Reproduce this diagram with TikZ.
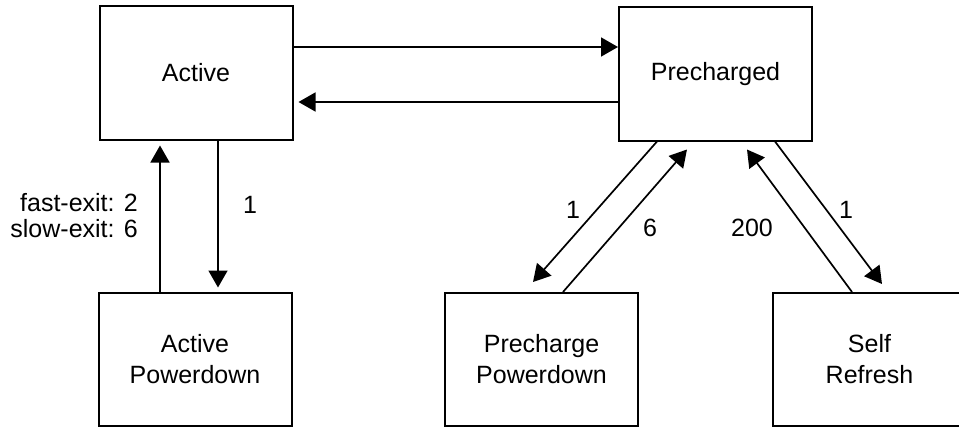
\documentclass[tikz,border=0pt]{standalone}
\usepackage{fontspec}
\setmainfont{Liberation Sans}
\usetikzlibrary{arrows.meta}
\begin{document}
\begin{tikzpicture}[x=1pt,y=-1pt,
  statebox/.style={draw, line width=2pt, minimum width=193pt, minimum height=133pt,
    inner sep=0pt, align=center, font=\fontsize{25}{31}\selectfont},
  conn/.style={line width=1.7pt, -{Triangle[length=17pt,width=19pt]}},
  lbl/.style={font=\fontsize{25}{26}\selectfont, inner sep=0pt}]
\useasboundingbox (0,0) rectangle (959,428);
\clip (0,0) rectangle (959,428);
\node[statebox] (act) at (196,73) {Active};
\node[statebox] (pre) at (715.5,74) {Precharged};
\node[statebox] (ap) at (195,359) {Active\\Powerdown};
\node[statebox] (pp) at (541.5,359.5) {Precharge\\Powerdown};
\node[statebox] (sr) at (869.5,359.5) {Self\\Refresh};
% horizontal connectors
\coordinate (t1) at ([yshift=26pt]act.east);
\coordinate (b1) at ([yshift=-29pt]act.east);
\draw[conn] (t1) -- (t1 -| pre.west);
\draw[conn, shorten >=5pt] (b1 -| pre.west) -- (b1);
% vertical connectors
\coordinate (u1) at ([xshift=-35pt]ap.north);
\coordinate (d1) at ([xshift=22pt]act.south);
\draw[conn, shorten >=5pt] (u1) -- (u1 |- act.south);
\draw[conn, shorten >=4pt] (d1) -- (d1 |- ap.north);
% diagonal connectors
\draw[conn] ([xshift=-58.5pt]pre.south) -- ([shift={(-8.5pt,10pt)}]pp.north);
\draw[conn] ([xshift=21.5pt]pp.north) -- ([shift={(-28.5pt,-8pt)}]pre.south);
\draw[conn] ([xshift=-17.5pt]sr.north) -- ([shift={(31.5pt,-8pt)}]pre.south);
\draw[conn] ([xshift=59.5pt]pre.south) -- ([shift={(12.5pt,8pt)}]sr.north);
% labels
\node[lbl, anchor=east, align=right] (lexit) at (138,216) {fast-exit: 2\\slow-exit: 6};
\node[lbl] (l1) at (250,205) {1};
\node[lbl] (l2) at (573,210) {1};
\node[lbl] (l3) at (650,228) {6};
\node[lbl] (l4) at (752,228) {200};
\node[lbl] (l5) at (846,210) {1};
\end{tikzpicture}
\end{document}
